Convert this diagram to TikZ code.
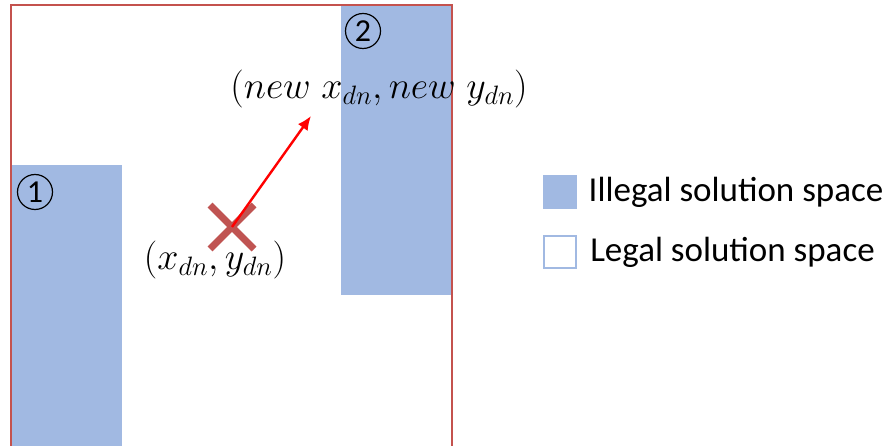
\RequirePackage{fix-cm}
\documentclass[tikz,border=0pt]{standalone}
\usepackage{fontspec}
\setmainfont{Carlito}
\usepackage{tikz}
\usetikzlibrary{positioning}
\usetikzlibrary{arrows.meta}
\definecolor{illegal}{RGB}{161,185,226}
\definecolor{frame}{RGB}{196,82,78}
\definecolor{cross}{RGB}{192,84,82}

\tikzset{
  space/.style={fill=illegal,draw=none},
  tag/.style={circle,draw=black,line width=1.2pt,inner sep=0pt,minimum size=35pt,font=\fontsize{32}{34}\selectfont},
  pt/.style={font=\fontsize{38}{42}\selectfont},
  legtext/.style={font=\fontsize{35}{40}\selectfont,anchor=west},
  legbox/.style={minimum width=34pt,minimum height=34pt,inner sep=0pt}
}

\begin{document}
\begin{tikzpicture}[x=1pt,y=-1pt]
\clip (0,0) rectangle (891,446);
\useasboundingbox (0,0) rectangle (891,446);
\fill[white] (0,0) rectangle (891,446);
\fill[space] (12,165) rectangle (122,452);
\fill[space] (341,5) rectangle (451,295);
\draw[frame,line width=2.6pt] (11,5) rectangle (452,460);
\node[tag] (t1) at (35,192) {1};
\node[tag] (t2) at (363,31) {2};

\coordinate (old) at (232,227);
\coordinate (new) at (311,116);
\draw[cross,line width=7pt] (210,205) -- (254,249);
\draw[cross,line width=7pt] (210,249) -- (254,205);
\draw[red,line width=2.4pt,-{Latex[length=14pt,width=12pt]}] (old) -- (new);
\node[pt] (lold) at (215,260) {$(x_{dn}, y_{dn})$};
\node[pt] (lnew) at (379,89) {$(new\;x_{dn}, new\;y_{dn})$};

\node[legbox,fill=illegal] (k1) at (560,192) {};
\node[legtext,right=8pt of k1] (k1t) {Illegal solution space};
\node[legbox,draw=illegal,line width=1.5pt,minimum width=32pt,minimum height=32pt] (k2) at (560,252) {};
\node[legtext,right=10pt of k2] (k2t) {Legal solution space};
\end{tikzpicture}
\end{document}
